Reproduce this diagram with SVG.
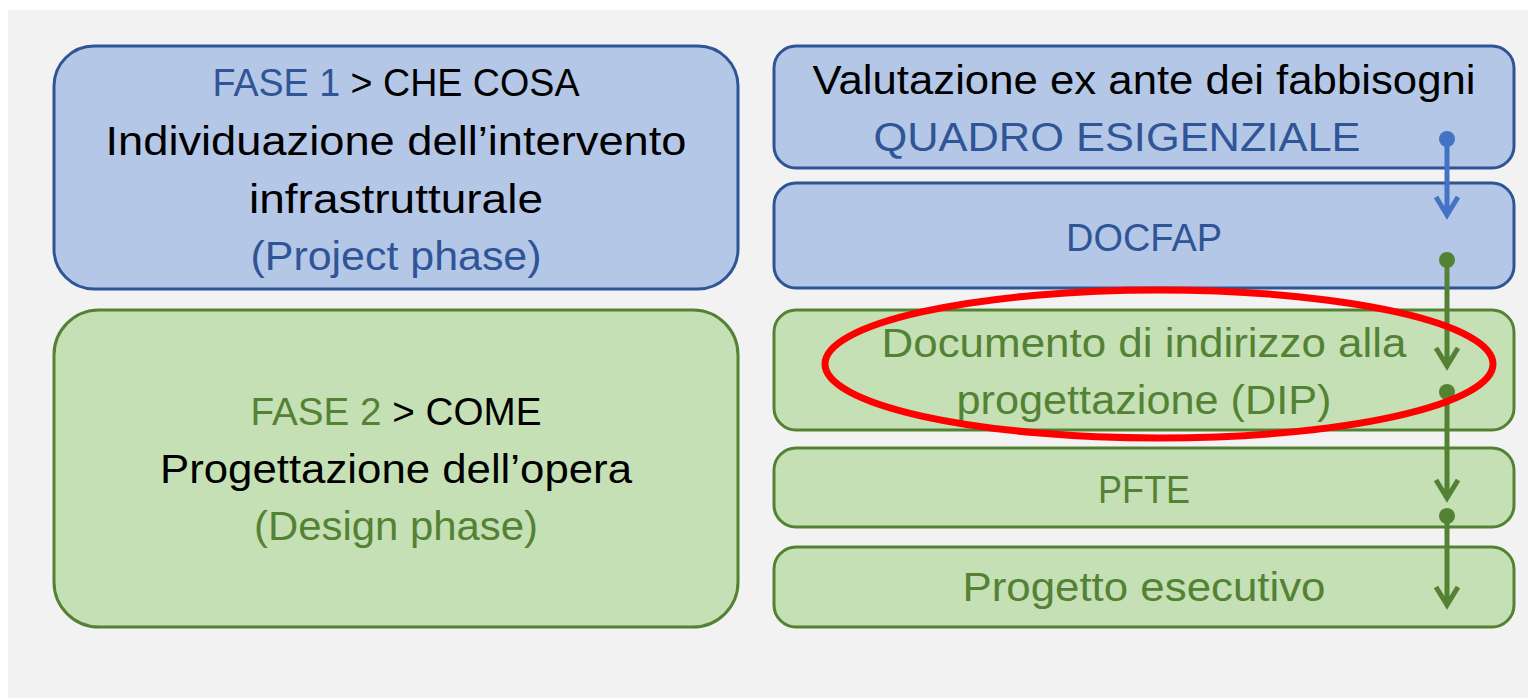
<svg xmlns="http://www.w3.org/2000/svg" width="1528" height="698" viewBox="0 0 1528 698">
<style>
text{font-family:"Liberation Sans",Arial,sans-serif;font-size:41px;text-anchor:middle;fill:#000}
.caps{font-size:38px}
.blue{fill:#b4c7e7;stroke:#2f5597;stroke-width:3}
.green{fill:#c5e0b4;stroke:#548235;stroke-width:3}
.tb{fill:#2f5597}
.tg{fill:#548235}
.ab{stroke:#4472c4;stroke-width:5;fill:none}
.ag{stroke:#548235;stroke-width:5;fill:none}
.db{fill:#4472c4}
.dg{fill:#548235}
</style>
<rect x="0" y="0" width="1528" height="698" fill="#ffffff"/>
<rect x="8" y="10" width="1520" height="688" fill="#f2f2f2"/>
<g id="fase1">
<rect class="blue" x="54" y="46" width="684" height="243" rx="40"/>
<text x="396" y="96" class="caps" textLength="367" lengthAdjust="spacingAndGlyphs"><tspan class="tb">FASE 1</tspan> &gt; CHE COSA</text>
<text x="396" y="155" textLength="581" lengthAdjust="spacingAndGlyphs">Individuazione dell’intervento</text>
<text x="396" y="213" textLength="294" lengthAdjust="spacingAndGlyphs">infrastrutturale</text>
<text x="396" y="270" textLength="291" lengthAdjust="spacingAndGlyphs" class="tb">(Project phase)</text>
</g>
<g id="fase2">
<rect class="green" x="54" y="310" width="684" height="317" rx="45"/>
<text x="396" y="425" class="caps" textLength="291" lengthAdjust="spacingAndGlyphs"><tspan class="tg">FASE 2</tspan> &gt; COME</text>
<text x="396" y="483" textLength="472" lengthAdjust="spacingAndGlyphs">Progettazione dell’opera</text>
<text x="396" y="540" textLength="284" lengthAdjust="spacingAndGlyphs" class="tg">(Design phase)</text>
</g>
<g id="quadro">
<rect class="blue" x="774" y="46" width="740" height="122" rx="22"/>
<text x="1144" y="94" textLength="663" lengthAdjust="spacingAndGlyphs">Valutazione ex ante dei fabbisogni</text>
<text x="1117" y="151" textLength="487" lengthAdjust="spacingAndGlyphs" class="tb">QUADRO ESIGENZIALE</text>
</g>
<g id="docfap">
<rect class="blue" x="774" y="183" width="740" height="105" rx="22"/>
<text x="1144" y="251" class="tb caps" textLength="156" lengthAdjust="spacingAndGlyphs">DOCFAP</text>
</g>
<g id="dip">
<rect class="green" x="774" y="310" width="740" height="120" rx="22"/>
<text x="1144" y="357" textLength="525" lengthAdjust="spacingAndGlyphs" class="tg">Documento di indirizzo alla</text>
<text x="1144" y="414" textLength="375" lengthAdjust="spacingAndGlyphs" class="tg">progettazione (DIP)</text>
</g>
<g id="pfte">
<rect class="green" x="774" y="448" width="740" height="79" rx="22"/>
<text x="1144" y="503" class="tg caps" textLength="92" lengthAdjust="spacingAndGlyphs">PFTE</text>
</g>
<g id="esecutivo">
<rect class="green" x="774" y="547" width="740" height="80" rx="22"/>
<text x="1144" y="601" textLength="363" lengthAdjust="spacingAndGlyphs" class="tg">Progetto esecutivo</text>
</g>
<g id="connectors">
<circle class="db" cx="1447" cy="139" r="8"/>
<path class="ab" d="M1447,139 V214 M1436,197 L1447,215 L1458,197"/>
<circle class="dg" cx="1447" cy="260" r="8"/>
<path class="ag" d="M1447,260 V365 M1436,348 L1447,366 L1458,348"/>
<circle class="dg" cx="1447" cy="392" r="8"/>
<path class="ag" d="M1447,392 V497 M1436,480 L1447,498 L1458,480"/>
<circle class="dg" cx="1447" cy="516" r="8"/>
<path class="ag" d="M1447,516 V604 M1436,587 L1447,605 L1458,587"/>
</g>
<g id="highlight">
<ellipse cx="1159" cy="364" rx="334" ry="74" fill="none" stroke="#ff0000" stroke-width="7"/>
</g>
</svg>
